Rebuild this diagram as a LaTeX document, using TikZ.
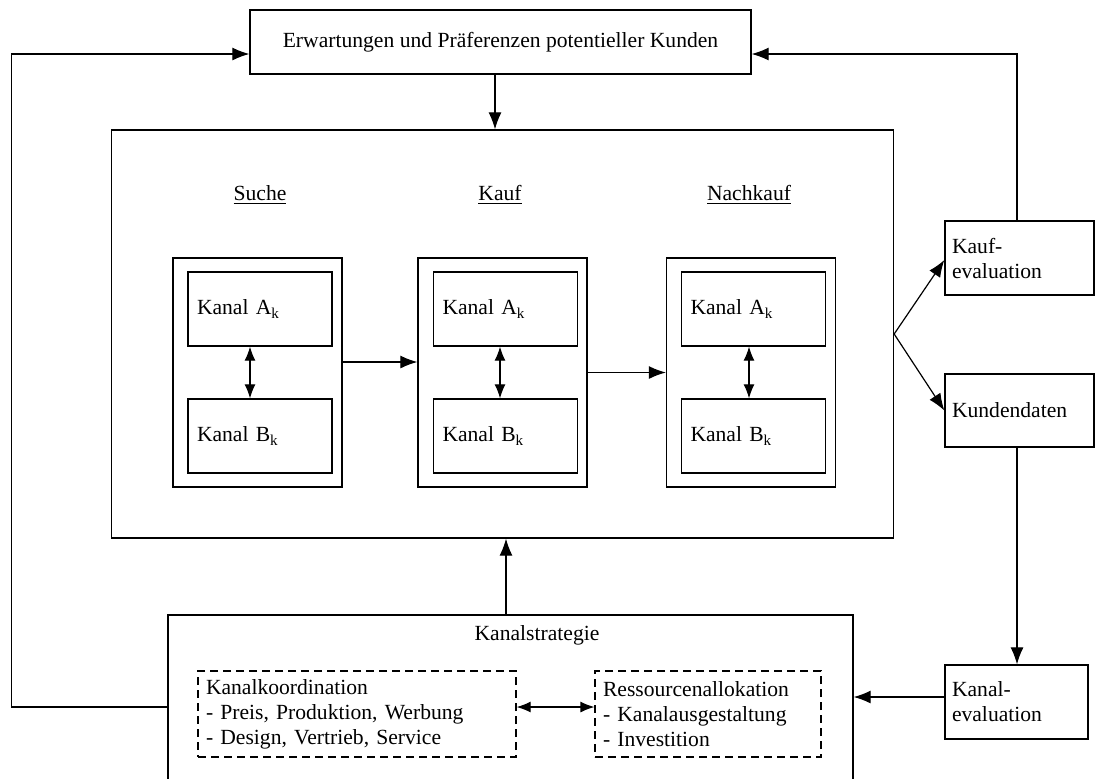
\documentclass[tikz,border=0pt]{standalone}
\usepackage{fontspec}
\setmainfont{Liberation Serif}
\usetikzlibrary{arrows.meta, positioning, calc}

\begin{document}
\begin{tikzpicture}[x=0.5pt, y=-0.5pt,
  every node/.style={font=\fontsize{10.8}{12.5}\selectfont},
  box/.style={draw, line width=0.65pt, minimum width=#1, inner sep=0pt},
  kanal/.style={draw, line width=0.65pt, minimum height=37pt, text width=63pt, inner sep=4.5pt, align=left},
  evalbox/.style={draw, line width=0.65pt, text width=#1, inner sep=3.5pt, align=left},
  dashbox/.style={draw, line width=0.6pt, dash pattern=on 4pt off 2.5pt, minimum height=43pt, text width=#1, inner sep=4pt, align=left},
  arr/.style={line width=0.6pt, -{Latex[length=8.5pt,width=6.5pt]}},
  darr/.style={line width=0.6pt, {Latex[length=7pt,width=5.5pt]}-{Latex[length=7pt,width=5.5pt]}}
]
\useasboundingbox (0,0) rectangle (1101,778);

\node[box=250.5pt, minimum height=32pt] (erw) at (500.5,42) {Erwartungen und Präferenzen potentieller Kunden};

\node[box=391pt, minimum height=204pt] (main) at (502.5,334) {};

% Phasen
\node (tSuche) at (260,195) {\underline{Suche}};
\node (tKauf) at (500,195) {\underline{Kauf}};
\node (tNach) at (749,195) {\underline{Nachkauf}};

\node[box=84.5pt, minimum height=114.5pt] (suche) at (257.5,372.5) {};
\node[box=84.5pt, minimum height=114.5pt] (kauf) at (502.5,372.5) {};
\node[box=84.5pt, minimum height=114.5pt] (nach) at (751,372.5) {};

\node[kanal] (sA) at (260,309) {Kanal A\textsubscript{k}};
\node[kanal] (sB) at (260,436) {Kanal B\textsubscript{k}};
\node[kanal] (kA) at (505.5,309) {Kanal A\textsubscript{k}};
\node[kanal] (kB) at (505.5,436) {Kanal B\textsubscript{k}};
\node[kanal] (nA) at (753.5,309) {Kanal A\textsubscript{k}};
\node[kanal] (nB) at (753.5,436) {Kanal B\textsubscript{k}};

% Evaluation
\node[evalbox=67.5pt, minimum height=37pt] (keval) at (1019.5,258) {Kauf-\\evaluation};
\node[evalbox=67.5pt, minimum height=36.5pt] (kdaten) at (1019.5,410.5) {Kundendaten};
\node[evalbox=64.5pt, minimum height=37pt] (kaneval) at (1016.5,702) {Kanal-\\evaluation};

% Kanalstrategie (unten abgeschnitten)
\node[box=342.5pt, minimum height=89.5pt] (strat) at (510.5,704.5) {};
\node (tStrat) at (537,635) {Kanalstrategie};
\node[dashbox=151pt] (kk) at (357,714) {Kanalkoordination\\- Preis, Produktion, Werbung\\- Design, Vertrieb, Service};
\node[dashbox=105pt] (ra) at (708,714) {Ressourcenallokation\\- Kanalausgestaltung\\- Investition};

% Verbindungen
\draw[arr] ([xshift=-2.75pt]erw.south) -- ([xshift=-2.75pt]erw.south |- main.north);
\draw[darr] ([xshift=-5pt]sA.south) -- ([xshift=-5pt]sB.north);
\draw[darr] ([xshift=-2.75pt]kA.south) -- ([xshift=-2.75pt]kB.north);
\draw[darr] ([xshift=-2.25pt]nA.south) -- ([xshift=-2.25pt]nB.north);
\draw[arr] ([yshift=5.25pt]suche.east) -- ([yshift=5.25pt]kauf.west);
\draw[arr] (kauf.east) -- (nach.west);

\draw[arr] (main.east) -- ([yshift=-1pt]keval.west);
\draw[arr] (main.east) -- (kdaten.west);
\draw[arr] ([xshift=-1.25pt]kdaten.south) -- ([xshift=-1.25pt]kdaten.south |- kaneval.north);
\draw[arr] ([yshift=2.5pt]kaneval.west) -- ([yshift=2.5pt]kaneval.west -| strat.east);
\draw[arr] ([xshift=-2.25pt]strat.north) -- ([xshift=-2.25pt]strat.north |- main.south);
\draw[darr] ([yshift=3.5pt]kk.east) -- ([yshift=3.5pt]kk.east -| ra.west);

% Rueckkopplung
\draw[arr] ([xshift=-1.25pt]keval.north) |- ([yshift=-6pt]erw.east);
\draw[arr] ([yshift=-1.25pt]strat.west) -| ++(-156,0) |- ([yshift=-6pt]erw.west);

\end{tikzpicture}
\end{document}
